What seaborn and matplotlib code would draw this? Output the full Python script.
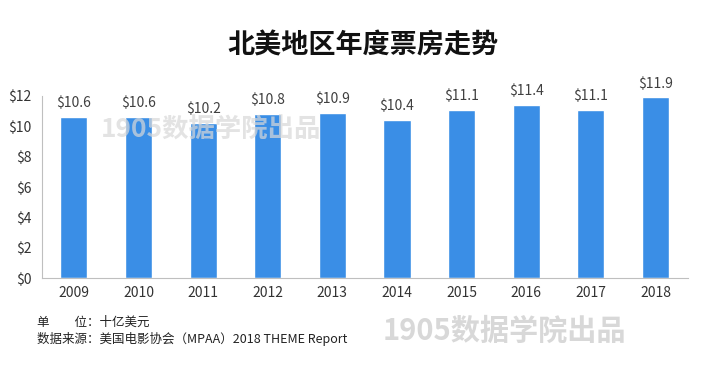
import seaborn as sns
import pandas as pd
import matplotlib.pyplot as plt

years = ["2009", "2010", "2011", "2012", "2013", "2014", "2015", "2016", "2017", "2018"]
box_office = [10.6, 10.6, 10.2, 10.8, 10.9, 10.4, 11.1, 11.4, 11.1, 11.9]
y_ticks = [0, 2, 4, 6, 8, 10, 12]

df = pd.DataFrame({"year": years, "value": box_office})

sns.set_style("white")
plt.rcParams["font.family"] = ["Noto Sans CJK SC", "DejaVu Sans"]

fig = plt.figure(figsize=(7.04, 3.66), dpi=100)
ax = fig.add_axes([0.059, 0.240, 0.918, 0.498])

sns.barplot(data=df, x="year", y="value", color="#3a8ee6", width=0.42,
            saturation=1, ax=ax)

# value labels
for i, v in enumerate(box_office):
    ax.text(i, v + 0.45, f"${v}", ha="center", va="bottom", fontsize=10,
            color="#404040", clip_on=False)

ax.set_xlim(-0.5, len(years) - 0.5)
ax.set_ylim(0, 12)
ax.set_yticks(y_ticks)
ax.set_yticklabels([f"${t}" for t in y_ticks])
ax.set_xlabel("")
ax.set_ylabel("")

# ticks between categories
ax.set_xticks([i - 0.5 for i in range(len(years) + 1)], minor=True)
ax.tick_params(axis="x", which="major", length=0, labelsize=10, colors="#333333", pad=6)
ax.tick_params(axis="x", which="minor", length=4, color="#bfbfbf", width=0.8)
ax.tick_params(axis="y", which="major", length=4, labelsize=10, colors="#333333",
               color="#bfbfbf", width=0.8, pad=3)
for s in ["top", "right"]:
    ax.spines[s].set_visible(False)
for s in ["left", "bottom"]:
    ax.spines[s].set_color("#bfbfbf")
    ax.spines[s].set_linewidth(0.8)

fig.text(0.515, 0.875, "北美地区年度票房走势", ha="center", va="center",
         fontsize=19.5, fontweight="bold", color="#111111")

# watermarks
fig.text(0.143, 0.645, "1905数据学院出品", fontsize=19, fontweight="bold",
         color="#d8d8d8", alpha=0.7, va="center")
fig.text(0.543, 0.097, "1905数据学院出品", fontsize=21, fontweight="bold",
         color="#d8d8d8", va="center")

fig.text(0.052, 0.118, "单　　位：十亿美元", fontsize=9, color="#222222", va="center")
fig.text(0.052, 0.075, "数据来源：美国电影协会（MPAA）2018 THEME Report", fontsize=9,
         color="#222222", va="center")

fig.savefig("out.png", dpi=100, facecolor="white")
